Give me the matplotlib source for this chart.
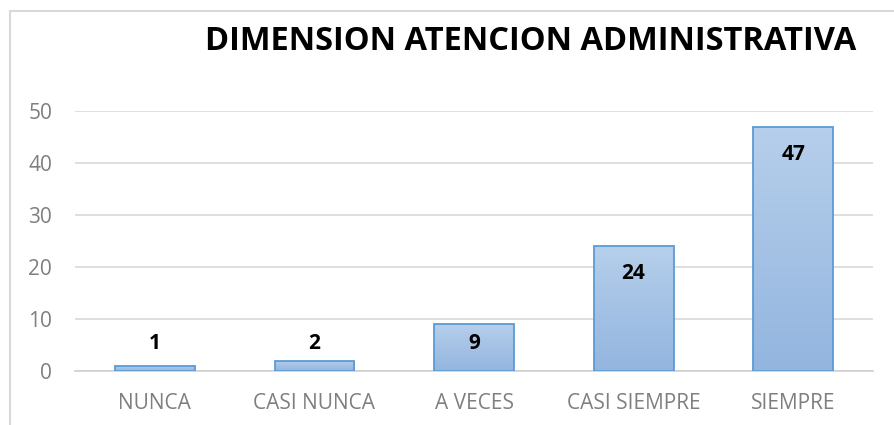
import numpy as np
import matplotlib
matplotlib.use("Agg")
import matplotlib.pyplot as plt
from matplotlib.patches import Rectangle

# datos
categorias = ["NUNCA", "CASI NUNCA", "A VECES", "CASI SIEMPRE", "SIEMPRE"]
valores = [1, 2, 9, 24, 47]
ticks_y = [0, 10, 20, 30, 40, 50]
titulo = "DIMENSION ATENCION ADMINISTRATIVA"

plt.rcParams['font.family'] = ['Open Sans', 'DejaVu Sans']

fig = plt.figure(figsize=(8.94, 4.25), dpi=100)
# marco del grafico
fig.patches.append(Rectangle((10/894, -0.1), 2.0, 1 - 11/425 + 0.1, transform=fig.transFigure,
                             fill=False, edgecolor="#d9d9d9", linewidth=1.5))
ax = fig.add_axes([75/894, 1 - 371/425, 798/894, 260/425])

x = np.arange(len(categorias))
barras = ax.bar(x, valores, width=0.5, color="none", edgecolor="#5b9bd5", linewidth=1.3, zorder=3)

# degradado dentro de cada barra
grad = np.linspace(0, 1, 256).reshape(-1, 1)
cmap = matplotlib.colors.LinearSegmentedColormap.from_list("g", ["#b6cfeb", "#93b5df"])
for b in barras:
    im = ax.imshow(grad, cmap=cmap, aspect="auto", origin="upper",
                   extent=[b.get_x(), b.get_x() + b.get_width(), 0, b.get_height()], zorder=2)
    im.set_clip_path(b)

# etiquetas de datos
for xi, v in zip(x, valores):
    ax.text(xi, max(v - 5.3, 5.2), str(v), ha="center", va="center",
            fontsize=15, fontweight="bold", color="black", zorder=4)

ax.set_xlim(-0.5, len(categorias) - 0.5)
ax.set_ylim(0, 50)
ax.set_yticks(ticks_y)
ax.set_xticks(x)
ax.set_xticklabels(categorias)
ax.tick_params(axis="both", length=0, labelsize=15, labelcolor="#7f7f7f")
ax.tick_params(axis="x", pad=16)
ax.tick_params(axis="y", pad=16.5)
ax.grid(axis="y", color="#d9d9d9", linewidth=1.2, zorder=0)
for s in ["top", "right", "left"]:
    ax.spines[s].set_visible(False)
ax.spines["bottom"].set_color("#d0d0d0")
ax.spines["bottom"].set_linewidth(1.2)

fig.text(531/894, 1 - 41/425, titulo, ha="center", va="center",
         fontsize=23.5, fontweight="bold", color="black")

fig.savefig("out.png", dpi=100)
